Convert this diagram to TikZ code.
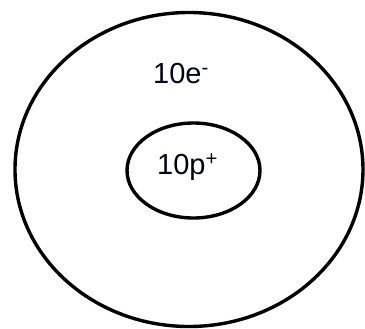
\documentclass[tikz,border=0pt]{standalone}
\usepackage{fontspec}
\setmainfont{Liberation Sans}
\usetikzlibrary{shapes.geometric}

\tikzset{
  shell/.style={ellipse, draw=black, line width=3.4bp, inner sep=0pt},
  charge/.style={font=\fontsize{29bp}{31bp}\selectfont, text=black!90!blue, inner sep=0pt}
}

\begin{document}
\begin{tikzpicture}[x=1bp, y=-1bp]
        \useasboundingbox (0,0) rectangle (365,329);

        % ===== outer shell =====
        \def\xO{189}
        \node[shell, minimum width=348bp, minimum height=314bp] (outer) at (\xO, 169.5) {};
        \node[charge] (electrons) at (\xO-8, 74) {10e\textsuperscript{-}};

        % ===== nucleus =====
        \def\xN{193.5}
        \node[shell, minimum width=133bp, minimum height=95bp] (nucleus) at (\xN, 170.5) {};
        \node[charge] (protons) at (\xN-6, 167) {10p\textsuperscript{+}};
    \end{tikzpicture}
\end{document}
